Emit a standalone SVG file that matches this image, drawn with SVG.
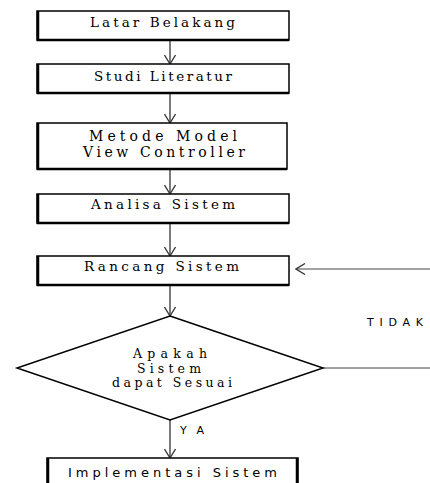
<svg xmlns="http://www.w3.org/2000/svg" width="430" height="483" viewBox="0 0 430 483">
<style>
.box{fill:#fff;stroke:#000;stroke-width:1.5}
.sh{stroke:#000;stroke-width:2.5;fill:none}
.ln{stroke:#333;stroke-width:1.3;fill:none}
.thin{stroke:#444;stroke-width:1;fill:none}
.sf{font-family:"DejaVu Serif","Liberation Serif",serif;fill:#000;font-size:13.5px}
.big{font-size:14px}
.dm{font-size:12.5px}
.ss{font-family:"DejaVu Sans","Liberation Sans",sans-serif;fill:#000;font-size:11px}
.im{font-size:13px}
</style>
<defs>
<marker id="ah" viewBox="0 0 12 12" refX="11" refY="6" markerWidth="12" markerHeight="12" markerUnits="userSpaceOnUse" orient="auto">
<path d="M2,0.5 L11,6 L2,11.5" fill="none" stroke="#333" stroke-width="1.3"/>
</marker>
</defs>
<g id="connectors">
<line class="ln" x1="170" y1="40" x2="170" y2="64" marker-end="url(#ah)"/>
<line class="ln" x1="170" y1="93" x2="170" y2="123" marker-end="url(#ah)"/>
<line class="ln" x1="170" y1="169" x2="170" y2="194" marker-end="url(#ah)"/>
<line class="ln" x1="170" y1="223" x2="170" y2="256" marker-end="url(#ah)"/>
<line class="ln" x1="170" y1="285" x2="170" y2="316" marker-end="url(#ah)"/>
<line class="ln" x1="170" y1="420" x2="170" y2="458" marker-end="url(#ah)"/>
<line class="thin" x1="323" y1="368" x2="430" y2="368"/>
<line class="thin" x1="430" y1="269" x2="296" y2="269" marker-end="url(#ah)"/>
<text class="ss" x="367" y="326" textLength="56" lengthAdjust="spacing">TIDAK</text>
<text class="ss" x="180" y="434" textLength="24" lengthAdjust="spacing">YA</text>
</g>
<g id="n1">
<rect class="box" x="37" y="11" width="252" height="29"/>
<path class="sh" d="M38,11 V40 H289"/>
<text class="sf" x="90" y="27" textLength="145" lengthAdjust="spacing">Latar Belakang</text>
</g>
<g id="n2">
<rect class="box" x="37" y="64" width="252" height="29"/>
<path class="sh" d="M38,64 V93 H289"/>
<text class="sf" x="94" y="81" textLength="138" lengthAdjust="spacing">Studi Literatur</text>
</g>
<g id="n3">
<rect class="box" x="37" y="123" width="250" height="46"/>
<path class="sh" d="M38,123 V169 H287"/>
<text class="sf big" x="89" y="141" textLength="148" lengthAdjust="spacing">Metode Model</text>
<text class="sf big" x="83" y="157" textLength="162" lengthAdjust="spacing">View  Controller</text>
</g>
<g id="n4">
<rect class="box" x="37" y="194" width="252" height="29"/>
<path class="sh" d="M38,194 V223 H289"/>
<text class="sf" x="91" y="209" textLength="144" lengthAdjust="spacing">Analisa Sistem</text>
</g>
<g id="n5">
<rect class="box" x="37" y="256" width="252" height="29"/>
<path class="sh" d="M38,256 V285 H289"/>
<text class="sf" x="84" y="271" textLength="155" lengthAdjust="spacing">Rancang Sistem</text>
</g>
<g id="n6">
<polygon points="170,316 323,368 170,420 17,368" fill="#fff" stroke="#000" stroke-width="1.5"/>
<text class="sf dm" x="133" y="358" textLength="74" lengthAdjust="spacing">Apakah</text>
<text class="sf dm" x="137" y="373" textLength="64" lengthAdjust="spacing">Sistem</text>
<text class="sf dm" x="112" y="387" textLength="120" lengthAdjust="spacing">dapat Sesuai</text>
</g>
<g id="n7">
<rect class="box" x="47" y="458" width="251" height="40"/>
<path class="sh" d="M48,458 V498 M297,458 V498"/>
<text class="ss im" x="68" y="477" textLength="209" lengthAdjust="spacing">Implementasi Sistem</text>
</g>
</svg>
